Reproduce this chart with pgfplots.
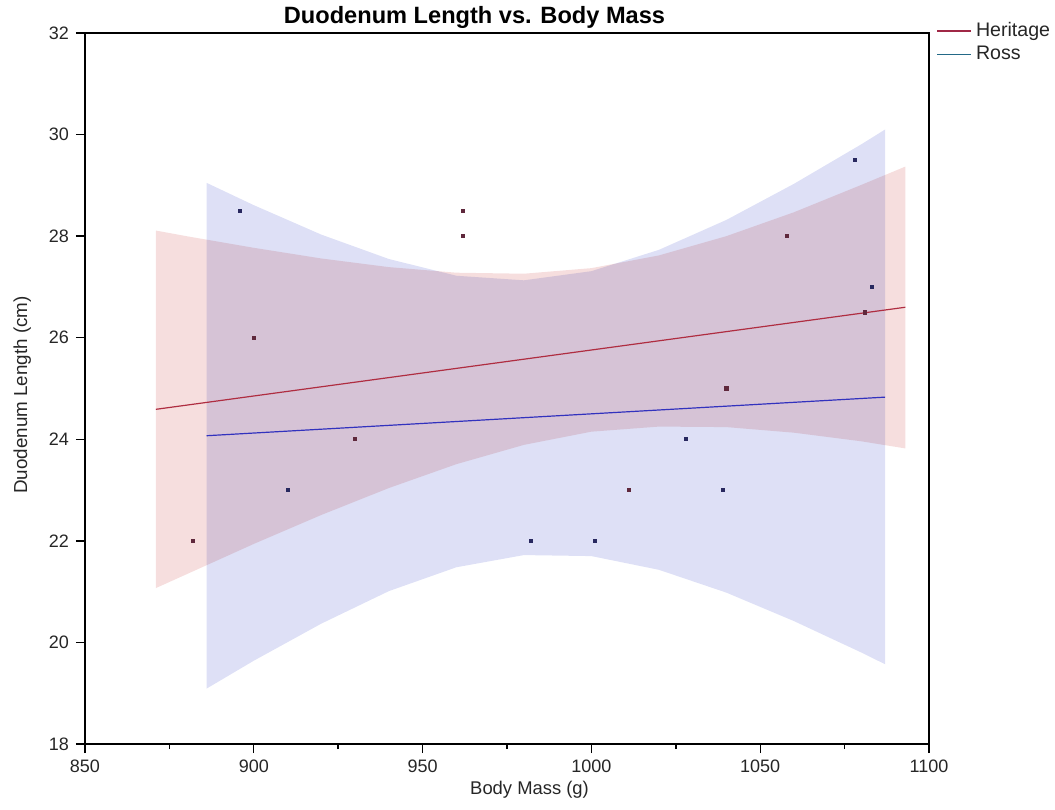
\documentclass[border=0pt]{standalone}
\usepackage{pgfplots}
\pgfplotsset{compat=1.18}
\usepackage{fontspec}
\setmainfont{Liberation Sans}
\definecolor{herfill}{RGB}{246,222,222}
\definecolor{rossfill}{RGB}{222,224,246}
\definecolor{herline}{RGB}{175,45,65}
\definecolor{rossline}{RGB}{50,50,190}
\definecolor{herleg}{RGB}{160,40,70}
\definecolor{rossleg}{RGB}{35,105,135}
\definecolor{hermark}{RGB}{95,40,60}
\definecolor{rossmark}{RGB}{40,40,95}
\begin{document}
\begin{tikzpicture}
\useasboundingbox (-42.5pt,-32.5pt) rectangle (485pt,372pt);
\begin{axis}[
  scale only axis,
  width=422pt, height=355.5pt,
  xmin=850, xmax=1100, ymin=18, ymax=32,
  xtick={850,900,...,1100}, ytick={18,20,...,32},
  minor x tick num=1,
  tick align=outside,
  xtick pos=bottom, ytick pos=left,
  major tick length=4.5pt, minor tick length=2.6pt,
  axis line style={line width=0.8pt},
  every tick/.style={black, line width=0.7pt},
  /pgf/number format/assume math mode=true,
  /pgf/number format/1000 sep={},
  tick label style={font=\fontsize{9}{11}\selectfont, text=black!85},
  every axis title shift=0pt,
  title={\textbf{Duodenum Length vs. Body Mass}},
  title style={at={(0.4615,1.0140)}, anchor=base, font=\fontsize{11.8}{13}\selectfont},
  xlabel={Body Mass (g)},
  xlabel style={at={(0.5267,-0.0717)}, anchor=base, font=\fontsize{9.2}{11}\selectfont, text=black!85},
  ylabel={Duodenum Length (cm)},
  ylabel style={at={(-0.0687,0.491)}, anchor=base, rotate=0, font=\fontsize{9.4}{11}\selectfont, text=black!85},
  legend style={at={(1,1)}, anchor=north west, xshift=3.5pt, yshift=7.6pt, draw=none, fill=none,
    font=\fontsize{9.8}{11}\selectfont, text=black!85, row sep=-0.6pt, inner sep=0pt},
  legend cell align=left,
  legend image code/.code={\draw[#1] (0pt,0pt) -- (17pt,0pt);},
  clip=true,
]
\addlegendimage{herleg, line width=0.8pt}
\addlegendentry{Heritage}
\addlegendimage{rossleg, line width=0.8pt}
\addlegendentry{Ross}

% Heritage confidence band
\addplot[draw=none, fill=herfill, blend mode=multiply, forget plot] coordinates {
(871,28.11) (880,28.00) (900,27.77) (920,27.56) (940,27.39) (960,27.28) (980,27.26) (1000,27.37) (1020,27.62) (1040,28.00) (1060,28.47) (1080,29.01) (1093,29.37)
(1093,23.82) (1080,23.96) (1060,24.13) (1040,24.24) (1020,24.25) (1000,24.15) (980,23.89) (960,23.51) (940,23.04) (920,22.51) (900,21.94) (880,21.34) (871,21.07)
} -- cycle;
% Ross confidence band
\addplot[draw=none, fill=rossfill, blend mode=multiply, forget plot] coordinates {
(886,29.05) (900,28.61) (920,28.03) (940,27.55) (960,27.22) (980,27.13) (1000,27.31) (1020,27.73) (1040,28.32) (1060,29.03) (1080,29.81) (1087,30.10)
(1087,19.57) (1080,19.80) (1060,20.42) (1040,20.98) (1020,21.43) (1000,21.70) (980,21.72) (960,21.48) (940,21.01) (920,20.37) (900,19.64) (886,19.09)
} -- cycle;

% regression lines
\addplot[herline, line width=0.6pt, forget plot] coordinates {(871,24.59) (1093,26.60)};
\addplot[rossline, line width=0.6pt, forget plot] coordinates {(886,24.07) (1087,24.83)};

% data points
\addplot[only marks, mark=square*, mark size=0.8pt, color=hermark, forget plot] coordinates {
(882,22) (900,26) (930,24) (962,28.5) (962,28) (1011,23) (1040,25) (1058,28) (1081,26.5)
};
\addplot[only marks, mark=square*, mark size=0.8pt, color=rossmark, forget plot] coordinates {
(896,28.5) (910,23) (982,22) (1001,22) (1028,24) (1039,23) (1078,29.5) (1083,27)
};
\end{axis}
\end{tikzpicture}
\end{document}
